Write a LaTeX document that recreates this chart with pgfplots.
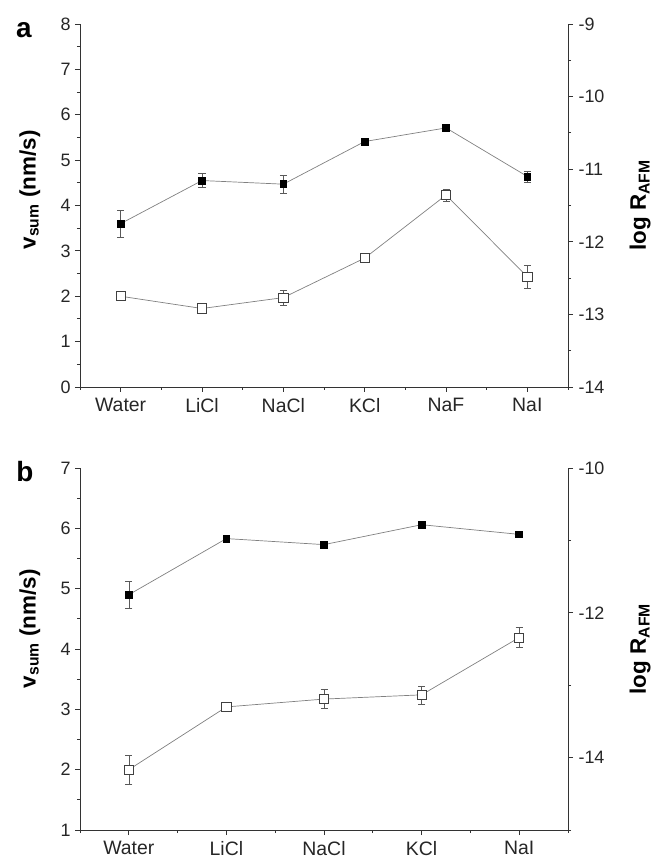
\documentclass[border=0pt]{standalone}
\usepackage{pgfplots}
\pgfplotsset{compat=1.18}
\usepackage{fontspec}
\setmainfont{Liberation Sans}

\definecolor{linegray}{HTML}{808080}
\definecolor{axgray}{HTML}{333333}

\pgfplotsset{
  common/.style={
    scale only axis, width=488bp,
    tick align=outside,
    major tick length=5bp, minor tick length=3bp,
    every tick/.style={line width=0.9pt, color=axgray},
    axis line style={line width=0.9pt, color=axgray, -},
    tick label style={font=\fontsize{18}{18}\selectfont, text=black!85},
    /pgf/number format/assume math mode=true,
    clip=false,
  },
  leftax/.style={
    common,
    axis x line*=bottom, axis y line*=left,
    x tick label style={font=\fontsize{19.5}{19.5}\selectfont, yshift=-3bp},
    y tick label style={xshift=-1bp},
    ylabel style={font=\bfseries\fontsize{22.5}{22.5}\selectfont, anchor=center},
  },
  rightax/.style={
    common,
    axis x line=none, axis y line*=right,
    y tick label style={xshift=2bp},
    ylabel style={font=\bfseries\fontsize{22.5}{22.5}\selectfont, at={(axis description cs:1.148,0.5)}, anchor=center},
  },
  filled/.style={color=linegray, line width=0.7pt, mark=square*, mark size=3.4bp,
    mark options={fill=black, draw=black, solid},
    error bars/.cd, y dir=both, y explicit,
    error bar style={color=black!65, line width=0.6pt},
    error mark options={rotate=90, mark size=3.5bp, color=black!65, line width=0.6pt}},
  opensq/.style={color=linegray, line width=0.7pt, mark=square*, mark size=4.6bp,
    mark options={fill=white, draw=black!75, line width=0.8pt, solid},
    error bars/.cd, y dir=both, y explicit,
    error bar style={color=black!65, line width=0.6pt},
    error mark options={rotate=90, mark size=3.5bp, color=black!65, line width=0.6pt}},
}

\begin{document}
\begin{tikzpicture}
\path[use as bounding box] (0,0) rectangle (656bp,861bp);

% ---------------- panel a ----------------
\begin{axis}[leftax, at={(80bp,474bp)}, anchor=south west, height=363bp,
  xmin=-0.5, xmax=5.5, ymin=0, ymax=8,
  xtick={0,1,2,3,4,5}, xticklabels={Water,LiCl,NaCl,KCl,NaF,NaI},
  minor xtick={-0.5,0.5,1.5,2.5,3.5,4.5,5.5},
  ytick={0,1,2,3,4,5,6,7,8},
  minor ytick={0.5,1.5,2.5,3.5,4.5,5.5,6.5,7.5},
  ylabel style={at={(axis description cs:-0.103,0.543)}},
  ylabel={v\textsubscript{sum} (nm/s)}]
\addplot[filled] coordinates {
  (0,3.60) +- (0,0.29)
  (1,4.55) +- (0,0.15)
  (2,4.47) +- (0,0.20)
  (3,5.41) +- (0,0.04)
  (4,5.71) +- (0,0.04)
  (5,4.64) +- (0,0.12)
};
\addplot[opensq] coordinates {
  (0,2.00) +- (0,0.10)
  (1,1.73) +- (0,0.05)
  (2,1.97) +- (0,0.17)
  (3,2.84) +- (0,0.05)
  (4,4.23) +- (0,0.13)
  (5,2.43) +- (0,0.26)
};
\end{axis}
\begin{axis}[rightax, at={(80bp,474bp)}, anchor=south west, height=363bp,
  xmin=-0.5, xmax=5.5, ymin=-14, ymax=-9,
  ytick={-14,-13,-12,-11,-10,-9},
  minor ytick={-13.5,-12.5,-11.5,-10.5,-9.5},
  ylabel={log R\textsubscript{AFM}}]
\end{axis}

% ---------------- panel b ----------------
\begin{axis}[leftax, at={(80bp,31bp)}, anchor=south west, height=362bp,
  xmin=-0.5, xmax=4.5, ymin=1, ymax=7,
  xtick={0,1,2,3,4}, xticklabels={Water,LiCl,NaCl,KCl,NaI},
  minor xtick={-0.5,0.5,1.5,2.5,3.5,4.5},
  ytick={1,2,3,4,5,6,7},
  minor ytick={1.5,2.5,3.5,4.5,5.5,6.5},
  ylabel style={at={(axis description cs:-0.103,0.556)}},
  ylabel={v\textsubscript{sum} (nm/s)}]
\addplot[filled] coordinates {
  (0,4.90) +- (0,0.22)
  (1,5.83) +- (0,0.03)
  (2,5.73) +- (0,0.05)
  (3,6.06) +- (0,0.03)
  (4,5.90) +- (0,0.03)
};
\addplot[opensq] coordinates {
  (0,2.00) +- (0,0.24)
  (1,3.04) +- (0,0.04)
  (2,3.17) +- (0,0.16)
  (3,3.24) +- (0,0.15)
  (4,4.19) +- (0,0.17)
};
\end{axis}
\begin{axis}[rightax, at={(80bp,31bp)}, anchor=south west, height=362bp,
  xmin=-0.5, xmax=4.5, ymin=-15, ymax=-10,
  ytick={-14,-12,-10},
  minor ytick={-15,-13,-11},
  ylabel={log R\textsubscript{AFM}}]
\end{axis}

\node[font=\bfseries\fontsize{28}{28}\selectfont, anchor=center] at (24bp,831bp) {a};
\node[font=\bfseries\fontsize{28}{28}\selectfont, anchor=center] at (25bp,389bp) {b};
\end{tikzpicture}
\end{document}
